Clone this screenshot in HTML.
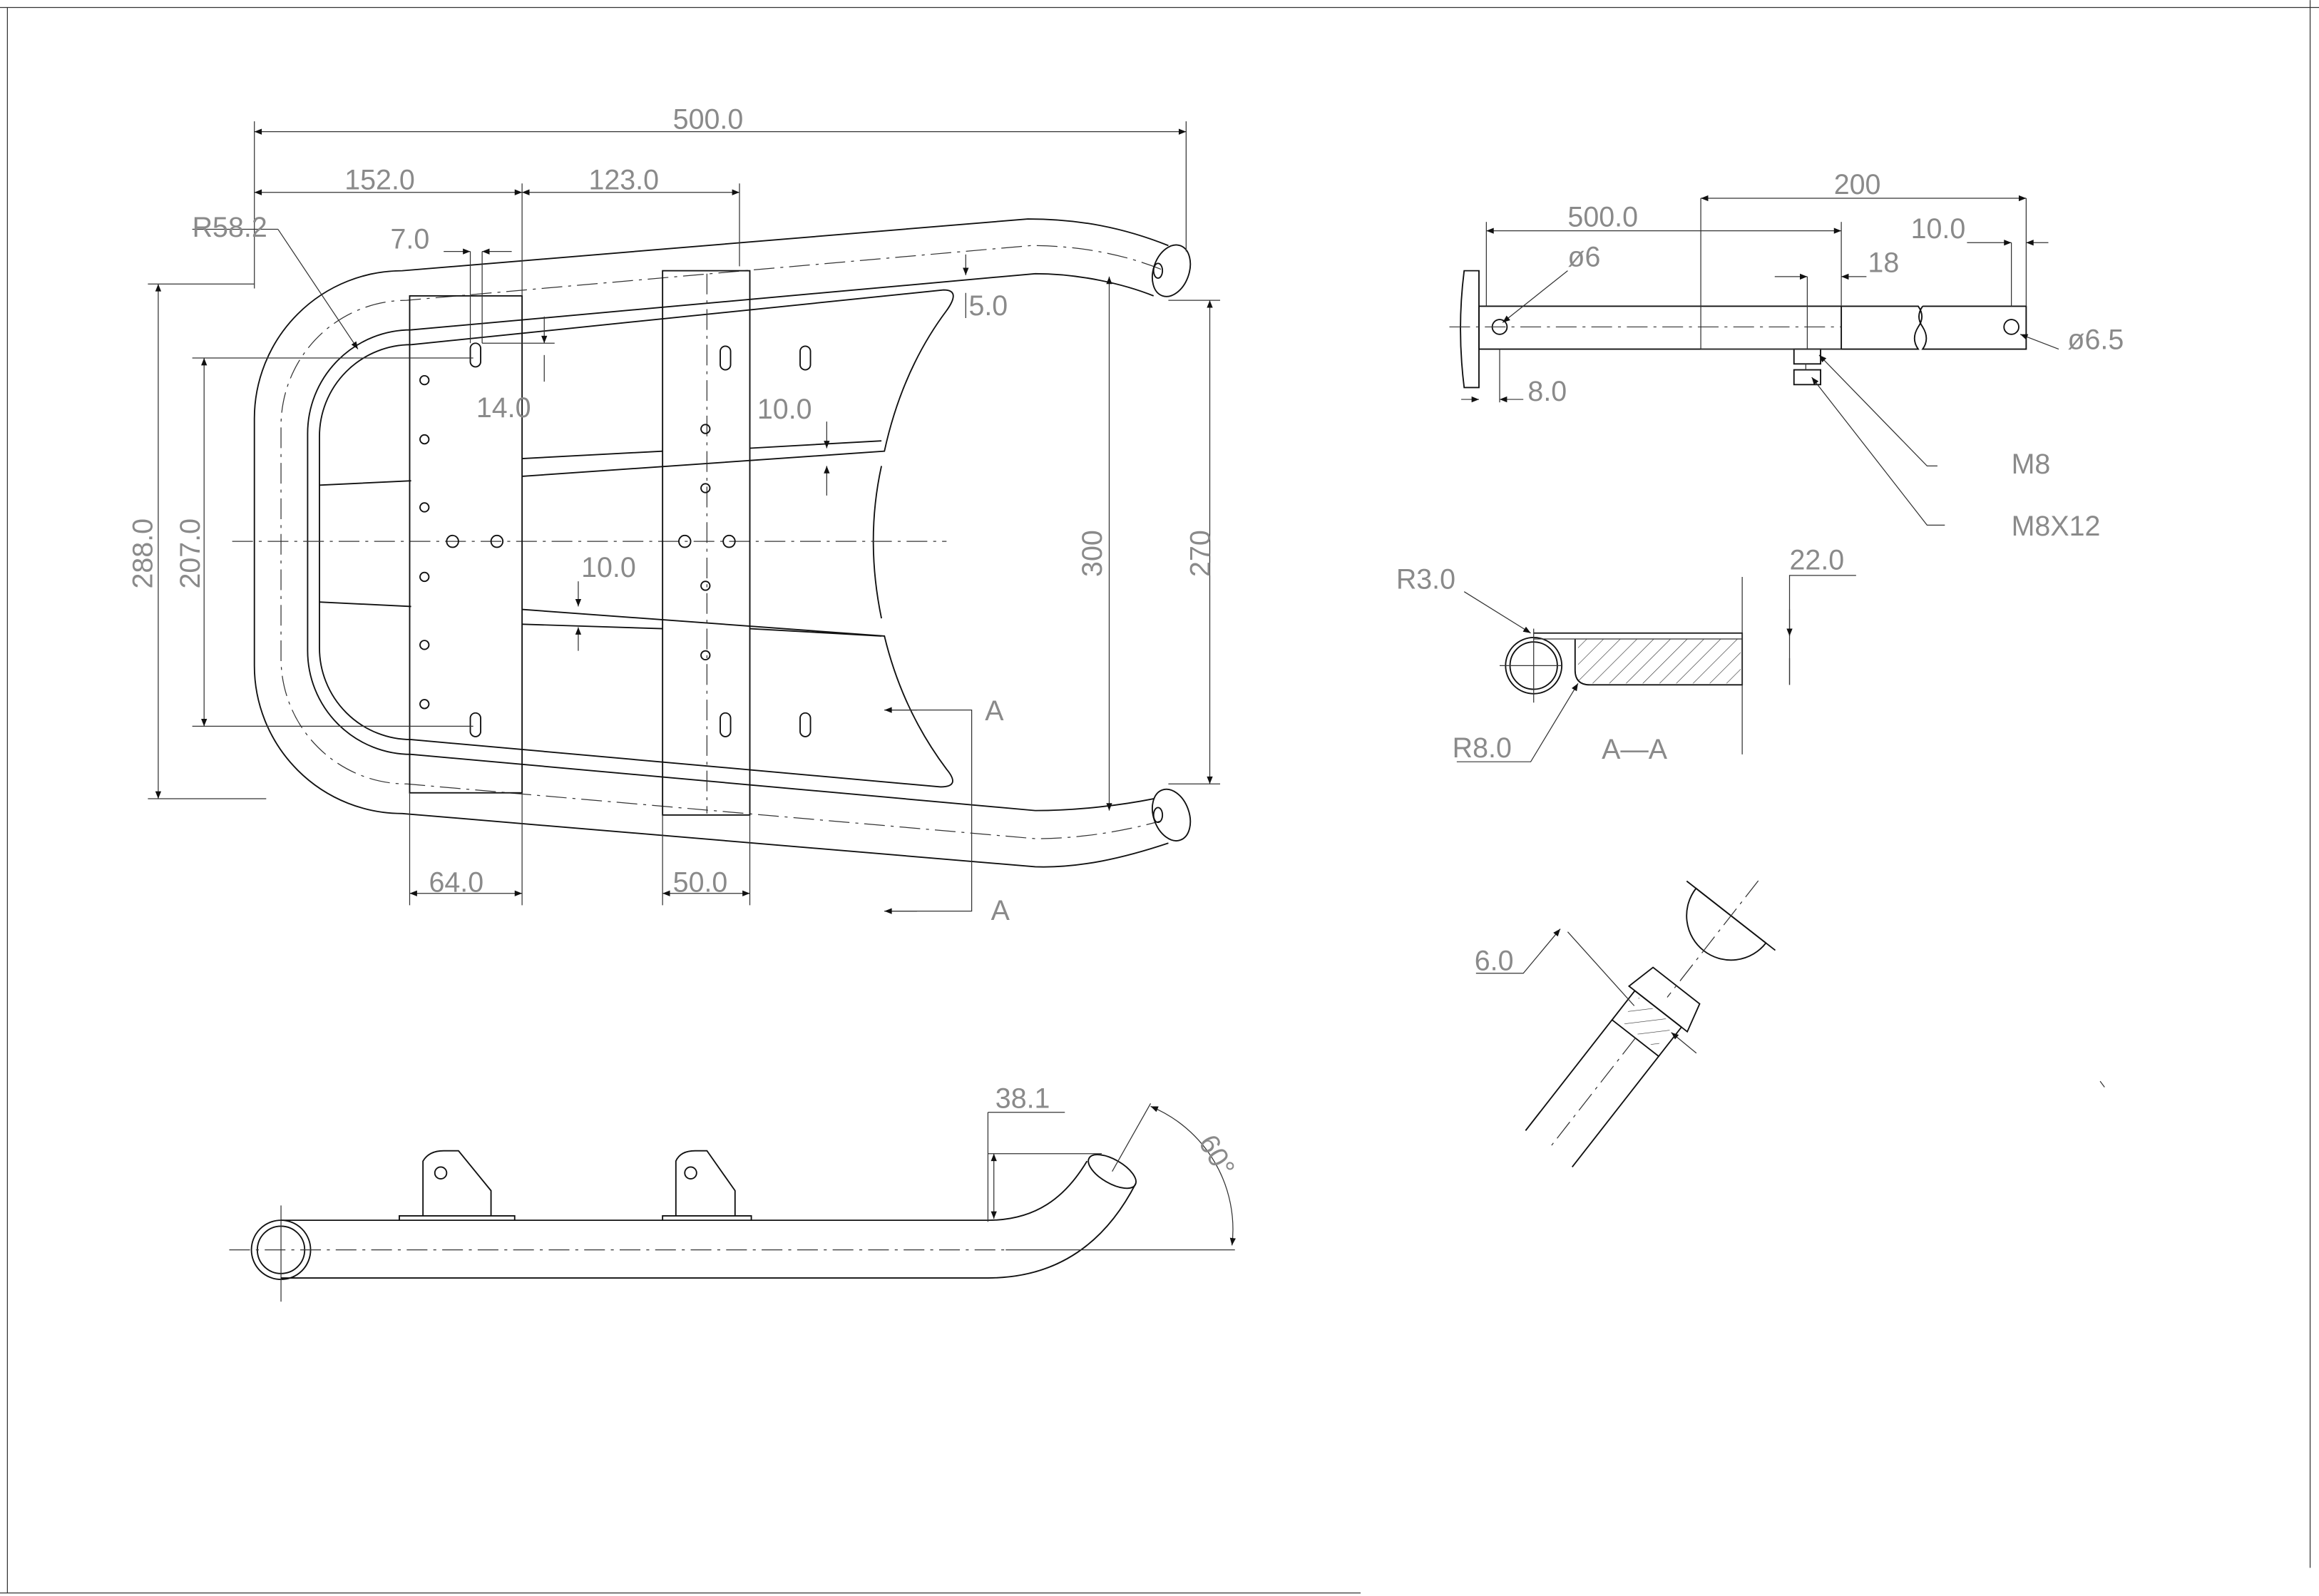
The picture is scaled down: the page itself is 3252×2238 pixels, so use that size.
<!DOCTYPE html>
<html><head><meta charset="utf-8"><style>
html,body{margin:0;padding:0;background:#fff;}
svg{display:block;}
text{font-family:"Liberation Sans",sans-serif;fill:#8a8a8a;font-size:19px;}
.l{stroke:#111;stroke-width:0.9;fill:none;}
.t{stroke:#333;stroke-width:0.6;fill:none;}
.d{stroke:#333;stroke-width:0.6;fill:none;stroke-dasharray:14 4 2 4;}
.g{stroke:#777;stroke-width:0.5;fill:none;}
</style></head><body>
<svg width="3252" height="2238" viewBox="0 0 1568 1079" xmlns="http://www.w3.org/2000/svg">
<defs>
<marker id="a" viewBox="0 0 10 10" refX="10" refY="5" markerWidth="7" markerHeight="5" orient="auto-start-reverse" markerUnits="userSpaceOnUse"><path d="M0,1 L10,5 L0,9z" fill="#111"/></marker>
<pattern id="h" width="8" height="8" patternUnits="userSpaceOnUse" patternTransform="rotate(45)"><line x1="0" y1="0" x2="0" y2="8" stroke="#333" stroke-width="0.6"/></pattern>
</defs>
<rect width="1568" height="1079" fill="#fff"/>
<line class="t" x1="0" y1="5" x2="1568" y2="5"/>
<line class="t" x1="1562" y1="0" x2="1562" y2="1060"/>
<line class="t" x1="0" y1="1077" x2="920" y2="1077"/>
<line class="t" x1="5" y1="5" x2="5" y2="1077"/>

<path class="l" d="M790 166 C760 154 730 148 695 148 L272 183 A100 100 0 0 0 172 283 L172 450 A100 100 0 0 0 272 550 L700 586 C730 587 760 580 790 570"/>
<path class="l" d="M780 200 C760 192 730 185 700 185 L278 223 A70 70 0 0 0 208 293 L208 440 A70 70 0 0 0 278 510 L700 548 C730 548 760 544 780 540"/>
<path class="d" d="M785 182 C760 172 730 166 697 166 L275 203 A85 85 0 0 0 190 288 L190 445 A85 85 0 0 0 275 530 L700 567 C730 567 760 562 785 555"/>
<ellipse class="l" cx="792" cy="183" rx="12" ry="18" transform="rotate(20 792 183)"/>
<ellipse class="l" cx="783" cy="183" rx="3" ry="5"/>
<ellipse class="l" cx="792" cy="551" rx="12" ry="18" transform="rotate(-20 792 551)"/>
<ellipse class="l" cx="783" cy="551" rx="3" ry="5"/>
<path class="l" d="M278 233 L638 196 Q650 196 640 210 Q610 250 598 305 L353 322"/>
<path class="l" d="M278 233 A62 62 0 0 0 216 295 L216 438 A62 62 0 0 0 278 500 L636 532 Q650 532 640 520 Q610 480 598 430 L353 412"/>
<path class="l" d="M216 328 L278 325 M216 407 L278 410"/>
<path class="l" d="M353 310 L448 305 M353 422 L448 425 M507 303 L596 298 M507 425 L596 430"/>
<path class="l" d="M596 315 Q585 365 596 418"/>
<line class="d" x1="157" y1="366" x2="640" y2="366"/>
<rect class="l" x="277" y="200" width="76" height="336" fill="#fff"/>
<rect class="l" x="448" y="183" width="59" height="368" fill="#fff"/>
<line class="d" x1="478" y1="185" x2="478" y2="550"/>
<g class="l">
<circle cx="287" cy="257" r="3"/><circle cx="287" cy="297" r="3"/><circle cx="287" cy="343" r="3"/><circle cx="287" cy="390" r="3"/><circle cx="287" cy="436" r="3"/><circle cx="287" cy="476" r="3"/>
<circle cx="306" cy="366" r="4"/><circle cx="336" cy="366" r="4"/>
<circle cx="477" cy="290" r="3"/><circle cx="477" cy="330" r="3"/><circle cx="463" cy="366" r="4"/><circle cx="493" cy="366" r="4"/><circle cx="477" cy="396" r="3"/><circle cx="477" cy="443" r="3"/>
<rect x="318" y="232" width="7" height="16" rx="3.5"/><rect x="318" y="482" width="7" height="16" rx="3.5"/>
<rect x="487" y="234" width="7" height="16" rx="3.5"/><rect x="541" y="234" width="7" height="16" rx="3.5"/>
<rect x="487" y="482" width="7" height="16" rx="3.5"/><rect x="541" y="482" width="7" height="16" rx="3.5"/>
</g>
<g class="t">
<line x1="172" y1="82" x2="172" y2="195"/><line x1="802" y1="82" x2="802" y2="170"/>
<line x1="172" y1="89" x2="802" y2="89" marker-start="url(#a)" marker-end="url(#a)"/>
<line x1="172" y1="130" x2="353" y2="130" marker-start="url(#a)" marker-end="url(#a)"/>
<line x1="353" y1="130" x2="500" y2="130" marker-start="url(#a)" marker-end="url(#a)"/>
<line x1="353" y1="124" x2="353" y2="200"/>
<line x1="500" y1="124" x2="500" y2="180"/>
<line x1="188" y1="155" x2="242" y2="236" marker-end="url(#a)"/>
<line x1="130" y1="155" x2="188" y2="155"/>
<line x1="100" y1="192" x2="172" y2="192"/><line x1="100" y1="540" x2="180" y2="540"/>
<line x1="107" y1="192" x2="107" y2="540" marker-start="url(#a)" marker-end="url(#a)"/>
<line x1="130" y1="242" x2="320" y2="242"/><line x1="130" y1="491" x2="320" y2="491"/>
<line x1="138" y1="242" x2="138" y2="491" marker-start="url(#a)" marker-end="url(#a)"/>
<line x1="318" y1="170" x2="318" y2="232"/><line x1="326" y1="170" x2="326" y2="232"/>
<line x1="300" y1="170" x2="318" y2="170" marker-end="url(#a)"/><line x1="346" y1="170" x2="326" y2="170" marker-end="url(#a)"/>
<line x1="326" y1="232" x2="375" y2="232"/>
<line x1="368" y1="214" x2="368" y2="232" marker-end="url(#a)"/>
<line x1="368" y1="258" x2="368" y2="240"/>
<line x1="559" y1="285" x2="559" y2="303" marker-end="url(#a)"/>
<line x1="559" y1="335" x2="559" y2="315" marker-end="url(#a)"/>
<line x1="391" y1="393" x2="391" y2="410" marker-end="url(#a)"/>
<line x1="391" y1="440" x2="391" y2="424" marker-end="url(#a)"/>
<line x1="653" y1="172" x2="653" y2="186" marker-end="url(#a)"/>
<line x1="653" y1="215" x2="653" y2="198"/>
<line x1="750" y1="187" x2="750" y2="548" marker-start="url(#a)" marker-end="url(#a)"/>
<line x1="790" y1="203" x2="825" y2="203"/><line x1="790" y1="530" x2="825" y2="530"/>
<line x1="818" y1="203" x2="818" y2="530" marker-start="url(#a)" marker-end="url(#a)"/>
<line x1="277" y1="536" x2="277" y2="612"/><line x1="353" y1="536" x2="353" y2="612"/>
<line x1="277" y1="604" x2="353" y2="604" marker-start="url(#a)" marker-end="url(#a)"/>
<line x1="448" y1="551" x2="448" y2="612"/><line x1="507" y1="551" x2="507" y2="612"/>
<line x1="448" y1="604" x2="507" y2="604" marker-start="url(#a)" marker-end="url(#a)"/>
<polyline points="598,480 657,480 657,616 598,616"/>
<line x1="620" y1="480" x2="598" y2="480" marker-end="url(#a)"/>
<line x1="620" y1="616" x2="598" y2="616" marker-end="url(#a)"/>
</g>
<text x="455" y="87">500.0</text>
<text x="233" y="128">152.0</text>
<text x="398" y="128">123.0</text>
<text x="130" y="160">R58.2</text>
<text x="264" y="168">7.0</text>
<text x="322" y="282">14.0</text>
<text x="512" y="283">10.0</text>
<text x="393" y="390">10.0</text>
<text x="655" y="213">5.0</text>
<text x="290" y="603">64.0</text>
<text x="455" y="603">50.0</text>
<text x="666" y="487">A</text>
<text x="670" y="622">A</text>
<text transform="translate(103 398) rotate(-90)">288.0</text>
<text transform="translate(135 398) rotate(-90)">207.0</text>
<text transform="translate(745 390) rotate(-90)">300</text>
<text transform="translate(818 390) rotate(-90)">270</text>

<circle class="l" cx="190" cy="845" r="20"/><circle class="l" cx="190" cy="845" r="16"/>
<line class="t" x1="190" y1="815" x2="190" y2="880"/>
<path class="l" d="M190 825 L668 825 C700 825 720 810 735 785"/>
<path class="l" d="M190 864 L668 864 C720 864 750 835 768 800"/>
<ellipse class="l" cx="752" cy="792" rx="18" ry="8" transform="rotate(30 752 792)"/>
<line class="d" x1="155" y1="845" x2="680" y2="845"/>
<line class="t" x1="680" y1="845" x2="835" y2="845"/>
<path class="l" d="M270 825 L270 822 L348 822 L348 825 M286 822 L286 785 Q290 778 300 778 L310 778 L332 805 L332 822"/>
<circle class="l" cx="298" cy="793" r="4"/>
<path class="l" d="M448 825 L448 822 L508 822 L508 825 M457 822 L457 785 Q460 778 470 778 L478 778 L497 805 L497 822"/>
<circle class="l" cx="467" cy="793" r="4"/>
<g class="t">
<line x1="668" y1="780" x2="745" y2="780"/><line x1="668" y1="752" x2="668" y2="826"/>
<line x1="672" y1="780" x2="672" y2="824" marker-start="url(#a)" marker-end="url(#a)"/>
<line x1="668" y1="752" x2="720" y2="752"/>
<line x1="752" y1="792" x2="778" y2="746"/>
<path d="M778 748 A90 90 0 0 1 833 842" marker-start="url(#a)" marker-end="url(#a)"/>
</g>
<text x="673" y="749">38.1</text>
<text transform="translate(810 772) rotate(60)">60°</text>

<path class="l" d="M1000 183 L1000 262 L990 262 Q985 222 990 183 Z"/>
<rect class="l" x="1000" y="207" width="245" height="29"/>
<path class="l" d="M1245 207 L1297 207 Q1302 214 1297 221 Q1292 229 1297 236 L1245 236"/>
<path class="l" d="M1300 207 L1370 207 L1370 236 L1300 236 Q1305 229 1300 221 Q1295 214 1300 207"/>
<circle class="l" cx="1014" cy="221" r="5"/><circle class="l" cx="1360" cy="221" r="5"/>
<line class="d" x1="980" y1="221" x2="1245" y2="221"/>
<rect class="l" x="1213" y="236" width="18" height="10"/><rect class="l" x="1213" y="250" width="18" height="10"/>
<line class="t" x1="1221" y1="246" x2="1221" y2="250"/>
<g class="t">
<line x1="1150" y1="134" x2="1150" y2="236"/><line x1="1370" y1="134" x2="1370" y2="207"/>
<line x1="1150" y1="134" x2="1370" y2="134" marker-start="url(#a)" marker-end="url(#a)"/>
<line x1="1150" y1="236" x2="1245" y2="236"/>
<line x1="1005" y1="156" x2="1245" y2="156" marker-start="url(#a)" marker-end="url(#a)"/>
<line x1="1005" y1="150" x2="1005" y2="207"/><line x1="1245" y1="150" x2="1245" y2="207"/>
<line x1="1200" y1="187" x2="1222" y2="187" marker-end="url(#a)"/><line x1="1262" y1="187" x2="1245" y2="187" marker-end="url(#a)"/>
<line x1="1222" y1="187" x2="1222" y2="236"/>
<line x1="1330" y1="164" x2="1360" y2="164" marker-end="url(#a)"/><line x1="1385" y1="164" x2="1370" y2="164" marker-end="url(#a)"/>
<line x1="1360" y1="164" x2="1360" y2="207"/>
<line x1="1060" y1="183" x2="1016" y2="218" marker-end="url(#a)"/>
<line x1="1392" y1="236" x2="1366" y2="226" marker-end="url(#a)"/>
<line x1="988" y1="270" x2="1000" y2="270" marker-end="url(#a)"/>
<line x1="1030" y1="270" x2="1014" y2="270" marker-end="url(#a)"/>
<line x1="1014" y1="236" x2="1014" y2="272"/>
<polyline points="1310,315 1303,315 1230,240" marker-end="url(#a)"/>
<polyline points="1315,355 1303,355 1225,255" marker-end="url(#a)"/>
</g>
<text x="1240" y="131">200</text>
<text x="1060" y="153">500.0</text>
<text x="1292" y="161">10.0</text>
<text x="1263" y="184">18</text>
<text x="1060" y="180">ø6</text>
<text x="1398" y="236">ø6.5</text>
<text x="1033" y="271">8.0</text>
<text x="1360" y="320" font-size="16">M8</text>
<text x="1360" y="362" font-size="16">M8X12</text>

<circle class="l" cx="1037" cy="450" r="19"/><circle class="l" cx="1037" cy="450" r="16"/>
<path class="l" d="M1037 428 L1178 428 L1178 463 L1075 463 Q1065 463 1065 453 L1065 432"/>
<rect x="1067" y="432" width="110" height="30" fill="url(#h)"/>
<line class="t" x1="1037" y1="432" x2="1178" y2="432"/>
<g class="t">
<line x1="1014" y1="450" x2="1056" y2="450"/><line x1="1037" y1="425" x2="1037" y2="475"/>
<line x1="1178" y1="390" x2="1178" y2="510"/>
<polyline points="1255,389 1210,389 1210,463"/>
<line x1="1210" y1="412" x2="1210" y2="430" marker-end="url(#a)"/>
<line x1="1210" y1="445" x2="1210" y2="463"/>
<line x1="990" y1="400" x2="1035" y2="428" marker-end="url(#a)"/>
<polyline points="985,515 1035,515 1067,462" marker-end="url(#a)"/>
</g>
<text x="944" y="398">R3.0</text>
<text x="1210" y="385">22.0</text>
<text x="982" y="512">R8.0</text>
<text x="1083" y="513">A—A</text>

<g transform="translate(1115 690) rotate(38)">
<rect class="l" x="-20" y="-10" width="40" height="25" fill="#fff"/>
<rect x="-15" y="-8" width="30" height="20" fill="url(#h)"/>
<line class="l" x1="-20" y1="15" x2="-20" y2="110"/><line class="l" x1="20" y1="15" x2="20" y2="110"/>
<line class="d" x1="0" y1="15" x2="0" y2="110"/>
<path class="l" d="M-25 -10 L25 -10 L20 -30 L-20 -30 Z"/>
<path class="l" d="M-30 -90 A30 30 0 0 0 30 -90 Z"/>
<line class="l" x1="-38" y1="-90" x2="38" y2="-90"/>
<line class="d" x1="0" y1="-120" x2="0" y2="-20"/>
</g>
<g class="t">
<polyline points="998,658 1030,658 1055,628" marker-end="url(#a)"/>
<line x1="1060" y1="630" x2="1105" y2="680"/>
<line x1="1147" y1="712" x2="1130" y2="698" marker-end="url(#a)"/>
</g>
<text x="997" y="656">6.0</text>
<line class="t" x1="1420" y1="731" x2="1423" y2="735"/>
</svg>
</body></html>
